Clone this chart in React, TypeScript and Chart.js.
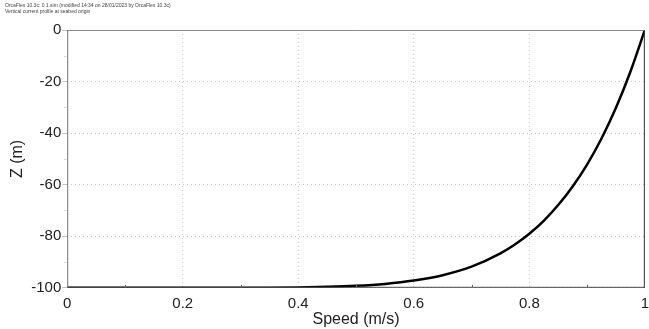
import React, { useEffect, useRef } from "react";
import { Chart, registerables } from "chart.js";

Chart.register(...registerables);

const headerLines = [
  "OrcaFlex 10.3c: 0 1.sim (modified 14:34 on 28/01/2023 by OrcaFlex 10.3c)",
  "Vertical current profile at seabed origin",
];
const xTitle = "Speed (m/s)";
const yTitle = "Z (m)";
const speedValues = [0, 0.2, 0.3, 0.35, 0.4, 0.45, 0.5, 0.55, 0.6, 0.65, 0.7, 0.75, 0.775, 0.8, 0.825, 0.85, 0.875, 0.9, 0.925, 0.95, 0.975, 1.0];
const depthValues = [-100, -100, -99.98, -99.94, -99.84, -99.63, -99.22, -98.48, -97.2, -95.1, -91.8, -86.65, -83.2, -79.0, -74.0, -67.9, -60.7, -52.2, -42.1, -30.2, -16.2, 0];
const xMin = 0;
const xMax = 1;
const xStep = 0.2;
const yMin = -100;
const yMax = 0;
const yStep = 20;
const xMinorTicks = [0.1, 0.3, 0.5, 0.7, 0.9];
const yMinorTicks = [-10, -30, -50, -70, -90];

const FONT = "'Liberation Sans', Arial, sans-serif";

const framePlugin = {
  id: "frame",
  afterDraw(chart: any) {
    const { ctx, chartArea } = chart;
    const xs = chart.scales.x;
    const ys = chart.scales.y;
    ctx.save();
    ctx.setLineDash([]);
    ctx.strokeStyle = "#8a8a8a";
    ctx.lineWidth = 1;
    ctx.beginPath();
    ctx.moveTo(chartArea.left, chartArea.top + 0.5);
    ctx.lineTo(chartArea.right, chartArea.top + 0.5);
    ctx.stroke();
    ctx.strokeStyle = "#333";
    ctx.beginPath();
    ctx.moveTo(chartArea.right - 0.5, chartArea.top);
    ctx.lineTo(chartArea.right - 0.5, chartArea.bottom);
    ctx.stroke();
    ctx.strokeStyle = "#444";
    ctx.beginPath();
    ctx.moveTo(chartArea.left, chartArea.bottom - 0.5);
    ctx.lineTo(chartArea.right, chartArea.bottom - 0.5);
    ctx.stroke();
    ctx.strokeStyle = "#777";
    ctx.beginPath();
    ctx.moveTo(chartArea.left + 0.5, chartArea.top);
    ctx.lineTo(chartArea.left + 0.5, chartArea.bottom);
    ctx.stroke();
    ctx.strokeStyle = "#666";
    for (const v of xMinorTicks) {
      const px = Math.round(xs.getPixelForValue(v)) + 0.5;
      ctx.beginPath();
      ctx.moveTo(px, chartArea.bottom);
      ctx.lineTo(px, chartArea.bottom - 3);
      ctx.stroke();
    }
    ctx.strokeStyle = "#cfcfcf";
    for (const v of yMinorTicks) {
      const py = Math.round(ys.getPixelForValue(v)) + 0.5;
      ctx.beginPath();
      ctx.moveTo(chartArea.left - 3, py);
      ctx.lineTo(chartArea.left - 1, py);
      ctx.stroke();
    }
    ctx.restore();
  },
};

export default function App() {
  const ref = useRef<HTMLCanvasElement>(null);
  useEffect(() => {
    if (!ref.current) return;
    const data = speedValues.map((s, i) => ({ x: s, y: depthValues[i] }));
    const chart = new Chart(ref.current, {
      type: "line",
      data: {
        datasets: [
          {
            data,
            borderColor: "#000",
            borderWidth: 2.5,
            pointRadius: 0,
            fill: false,
            cubicInterpolationMode: "monotone",
          },
        ],
      },
      options: {
        animation: false,
        responsive: false,
        maintainAspectRatio: false,
        layout: { padding: { left: 5, right: 0, top: 0, bottom: 0 } },
        plugins: {
          legend: { display: false },
          tooltip: { enabled: false },
          title: {
            display: true,
            text: headerLines[0],
            align: "start",
            color: "#444",
            font: { family: FONT, size: 5, weight: "normal" },
            padding: { top: 3, bottom: 0 },
          },
          subtitle: {
            display: true,
            text: headerLines[1],
            align: "start",
            color: "#444",
            font: { family: FONT, size: 5, weight: "normal" },
            padding: { top: 0, bottom: 15 },
          },
        },
        scales: {
          x: {
            type: "linear",
            min: xMin,
            max: xMax,
            ticks: {
              stepSize: xStep,
              color: "#222",
              font: { family: FONT, size: 15 },
              padding: 0,
              maxRotation: 0,
              callback: (v: any) => String(Math.round(Number(v) * 10) / 10),
            },
            grid: {
              color: "#c4c4c4",
              drawTicks: true,
              tickLength: 7,
              tickColor: "rgba(0,0,0,0)",
            },
            border: { display: false, dash: [1, 3] },
            title: {
              display: true,
              text: xTitle,
              color: "#222",
              font: { family: FONT, size: 16 },
              padding: { top: -3, bottom: 0 },
            },
          },
          y: {
            type: "linear",
            min: yMin,
            max: yMax,
            ticks: {
              stepSize: yStep,
              color: "#222",
              font: { family: FONT, size: 15 },
              padding: 1,
            },
            grid: {
              color: "#c4c4c4",
              tickLength: 5,
            },
            border: { display: false, dash: [1, 3] },
            title: {
              display: true,
              text: yTitle,
              color: "#222",
              font: { family: FONT, size: 16 },
              padding: { top: 3, bottom: 3 },
            },
          },
        },
      },
      plugins: [framePlugin],
    } as any);
    return () => chart.destroy();
  }, []);
  return (
    <div style={{ position: "absolute", left: 0, top: 0, width: 649, height: 329, background: "#fff" }}>
      <canvas ref={ref} width={649} height={329} style={{ width: 649, height: 329 }} />
    </div>
  );
}
